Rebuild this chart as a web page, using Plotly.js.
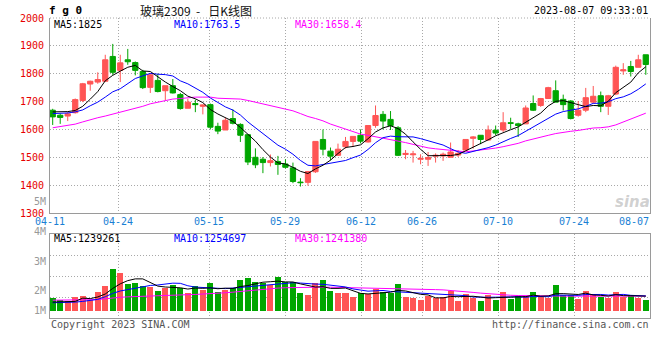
<!DOCTYPE html>
<html><head><meta charset="utf-8">
<script src="https://cdn.plot.ly/plotly-3.0.1.min.js"></script>
<style>html,body{margin:0;padding:0;background:#fff}#chart{width:660px;height:360px}</style>
</head><body><div id="chart"></div>
<script>
// ---------------- data ----------------
const dates = ['04-11','04-12','04-13','04-14','04-17','04-18','04-19','04-20','04-21','04-24','04-25','04-26','04-27','04-28',
'05-04','05-05','05-08','05-09','05-10','05-11','05-12','05-15','05-16','05-17','05-18','05-19','05-22','05-23','05-24','05-25','05-26','05-29','05-30','05-31',
'06-01','06-02','06-05','06-06','06-07','06-08','06-09','06-12','06-13','06-14','06-15','06-16','06-19','06-20','06-21','06-26','06-27','06-28','06-29','06-30',
'07-03','07-04','07-05','07-06','07-07','07-10','07-11','07-12','07-13','07-14','07-17','07-18','07-19','07-20','07-21','07-24','07-25','07-26','07-27','07-28','07-31',
'08-01','08-02','08-03','08-04','08-07'];
const open  = [1669,1651,1648,1660,1704,1763,1770,1773,1862,1812,1850,1840,1808,1751,1776,1739,1757,1725,1676,1693,
1683,1689,1611,1598,1639,1618,1581,1500,1493,1481,1485,1476,1462,1411,1410,1448,1564,1522,1507,1538,
1557,1579,1555,1614,1654,1636,1606,1510,1509,1493,1493,1504,1505,1500,1508,1526,1568,1579,1562,1597,
1598,1624,1620,1620,1693,1686,1711,1739,1708,1702,1651,1669,1698,1721,1683,1727,1810,1826,1823,1868];
const high  = [1674,1657,1662,1711,1767,1775,1805,1868,1907,1868,1889,1844,1814,1802,1800,1757,1781,1731,1710,1707,
1689,1693,1624,1642,1672,1622,1581,1532,1501,1510,1505,1493,1481,1425,1451,1557,1600,1535,1549,1573,
1575,1600,1614,1686,1666,1666,1612,1526,1523,1511,1519,1514,1517,1553,1526,1564,1576,1579,1614,1614,
1662,1642,1624,1686,1722,1713,1753,1776,1725,1705,1702,1749,1756,1736,1724,1829,1838,1846,1868,1868];
const low   = [1616,1620,1630,1657,1698,1739,1764,1770,1796,1770,1832,1794,1745,1731,1733,1705,1729,1671,1676,1662,
1654,1600,1583,1598,1618,1555,1472,1461,1443,1467,1437,1460,1407,1395,1398,1444,1507,1489,1505,1531,
1538,1550,1553,1606,1600,1598,1505,1493,1481,1475,1469,1481,1487,1500,1501,1526,1531,1547,1560,1579,
1591,1602,1573,1620,1666,1681,1710,1698,1668,1636,1646,1662,1693,1662,1652,1723,1796,1790,1823,1796];
const close = [1645,1643,1656,1707,1764,1773,1779,1850,1805,1839,1843,1812,1750,1796,1736,1757,1731,1675,1698,1689,
1688,1608,1594,1633,1622,1579,1483,1473,1481,1488,1474,1464,1413,1409,1449,1557,1529,1504,1529,1557,
1575,1558,1614,1650,1630,1614,1507,1514,1512,1496,1499,1507,1511,1519,1514,1564,1573,1564,1598,1587,
1624,1622,1614,1677,1669,1711,1750,1698,1689,1639,1669,1714,1719,1683,1721,1823,1814,1808,1850,1833];
const ma5  = [1663,1663,1664,1668,1683,1708.6,1735.8,1774.6,1794.2,1809.2,1823.2,1829.8,1809.8,1808,1787.4,1770.2,1754,1739,1719.4,1710,
1696.2,1671.6,1655.4,1642.4,1629,1607.2,1582.2,1558,1527.6,1500.8,1479.8,1476,1464,1449.6,1441.8,1458.4,1471.4,1489.6,1513.6,1535.2,
1538.8,1544.6,1566.6,1590.8,1605.4,1613.2,1603,1583,1555.4,1528.6,1505.6,1505.6,1505,1506.4,1510,1523,1536.2,1546.8,1562.6,1577.2,
1589.2,1599,1609,1624.8,1641.2,1658.6,1684.2,1701,1703.4,1697.4,1689,1681.8,1686,1684.8,1701.2,1732,1752,1769.8,1803.2,1825];
const ma10 = [1657,1657,1659,1663,1670,1685,1698,1716,1735,1746.1,1765.9,1782.8,1792.2,1801.1,1798.3,1796.7,1791.9,1774.4,1763.7,1748.7,
1733.2,1712.8,1697.2,1680.9,1669.5,1651.7,1626.9,1606.7,1585,1564.9,1543.5,1529.1,1511,1488.6,1471.3,1469.1,1473.7,1476.8,1481.6,1488.5,
1498.6,1508,1528.1,1552.2,1570.3,1576,1573.8,1574.8,1573.1,1567,1559.4,1554.3,1544,1530.9,1519.3,1514.3,1520.9,1525.9,1534.5,1543.6,
1556.1,1567.6,1577.9,1593.7,1609.2,1623.9,1641.6,1655,1664.1,1669.3,1673.8,1683,1693.5,1694.1,1699.3,1710.5,1716.9,1727.9,1744,1763.5];
const ma30 = [1606,1610,1614,1619,1627,1635,1642,1648,1655,1660,1668,1676,1683,1692,1698,1705,1709,1711,1714,1716,
1716,1716,1712,1711,1710,1709,1704,1698,1692,1686.6,1680.9,1674.9,1666.8,1656.9,1646.4,1639.2,1630.8,1619.3,1610.1,1600.7,
1591.8,1583.3,1578.8,1573.9,1570.4,1565.6,1558.1,1552.8,1546.6,1540.1,1533.8,1530.5,1527.7,1523.9,1520.3,1519.8,1522.8,1525.8,1529.7,1533,
1538,1543.3,1550,1558.9,1566.3,1571.4,1578.8,1585.2,1590.6,1593.3,1596.4,1601.6,1605.1,1606.2,1609.3,1616.2,1626.5,1636.3,1647.5,1658.4];
const volume = [1108000,917000,858000,1192000,1275000,917000,1608000,2083000,3525000,3192000,
2250000,2333000,2083000,2025000,1667000,1892000,2142000,1942000,1500000,2083000,
1775000,2333000,1583000,1750000,1942000,2583000,2750000,2417000,2308000,2142000,
2833000,2417000,2392000,1500000,1333000,2333000,2583000,1667000,1500000,1500000,
1192000,1500000,1417000,1808000,1608000,1500000,2250000,1192000,1108000,892000,
1250000,1058000,1150000,1708000,808000,1392000,1083000,808000,1308000,958000,
1558000,975000,1233000,1275000,1558000,1142000,1083000,2142000,1308000,1375000,
975000,1642000,1375000,1167000,1083000,1558000,1208000,1358000,1100000,958000];
const volMa5 = [740000,740000,750000,800000,1070000,1032000,1170000,1415000,1882000,2265000,
2532000,2677000,2677000,2377000,2072000,2000000,1962000,1934000,1829000,1912000,
1888000,1927000,1855000,1905000,1877000,2038000,2122000,2288000,2400000,2440000,
2490000,2423000,2418000,2257000,2095000,1995000,2028000,1883000,1883000,1917000,
1688000,1472000,1422000,1483000,1505000,1567000,1717000,1672000,1532000,1388000,
1338000,1100000,1092000,1212000,1195000,1223000,1228000,1160000,1080000,1110000,
1143000,1121000,1206000,1200000,1320000,1237000,1258000,1440000,1447000,1410000,
1377000,1488000,1335000,1307000,1248000,1365000,1278000,1275000,1261000,1239261];
const volMa10 = [690000,690000,700000,740000,800000,860000,970000,1190000,1470000,1668000,
1782000,1923000,2046000,2129000,2168000,2266000,2319000,2305000,2103000,1992000,
1944000,1944000,1894000,1867000,1894000,1963000,2024000,2072000,2152000,2158000,
2264000,2273000,2353000,2328000,2268000,2243000,2226000,2151000,2070000,2006000,
1842000,1750000,1653000,1683000,1711000,1628000,1594000,1547000,1508000,1447000,
1453000,1408000,1382000,1372000,1292000,1281000,1164000,1126000,1146000,1152000,
1183000,1175000,1183000,1140000,1215000,1190000,1190000,1323000,1323000,1365000,
1307000,1373000,1388000,1377000,1329000,1371000,1383000,1305000,1284000,1254697];
const volMa30 = [900000,900000,900000,900000,910000,920000,950000,1020000,1100000,1140000,
1180000,1210000,1240000,1260000,1280000,1300000,1320000,1340000,1360000,1380000,
1400000,1430000,1470000,1520000,1570000,1630000,1700000,1770000,1830000,1870000,
1910000,1940000,1960000,1970000,1980000,1990000,1990000,1980000,1970000,1960000,
1950000,1940000,1920000,1910000,1900000,1880000,1870000,1850000,1830000,1820000,
1800000,1780000,1760000,1720000,1670000,1610000,1550000,1490000,1430000,1380000,
1340000,1310000,1290000,1270000,1260000,1250000,1250000,1250000,1240000,1240000,
1240000,1240000,1240000,1240000,1240000,1240000,1240000,1240000,1240000,1241380];
const tickDates = ['04-11','04-24','05-15','05-29','06-12','06-26','07-10','07-24','08-07'];
const priceTicks = [1300,1400,1500,1600,1700,1800,1900,2000];
const volTickLabels = ['5M','4M','3M','2M','1M'];
const symbol = 'f g 0';
const titleText = '玻璃2309\u00a0\u00a0-\u00a0\u00a0\u00a0日K线图';
const stamp = '2023-08-07 09:33:01';

// ---------------- layout geometry ----------------
const W=660,H=360,L=50,R=10,T=18,B=42;
const PW=W-L-R, PH=H-T-B;
const px = x => (x-L)/PW;
const py = y => (H-B-y)/PH;
const X0=-0.36, X1=79.56;                    // candle index range
const gx = i => X0 + i*(X1-X0)/79;            // grid line position of a date slot
const VBASE=311, VPX=12;                      // volume panel: base pixel, px per million
const yVol = y => (VBASE-y)/VPX*1e6;

const RED='#ff5555', GREEN='#00a600', BLUE='#0000ff', MAG='#ff00ff', GRID='#a8a8a8', FRAME='#9a9a9a';
const MONO='DejaVu Sans Mono, monospace';
const idx = dates.map((d,i)=>i);
const gridVals = tickDates.map(d=>gx(dates.indexOf(d)));
const volColors = idx.map(i=> close[i]>=open[i] ? RED : GREEN);

const traces = [
  {type:'candlestick', x:idx, open:open, high:high, low:low, close:close, xaxis:'x', yaxis:'y',
   increasing:{line:{color:RED,width:1}, fillcolor:RED},
   decreasing:{line:{color:GREEN,width:1}, fillcolor:GREEN},
   whiskerwidth:0, hoverinfo:'skip', showlegend:false},
  {type:'scatter', mode:'lines', x:idx, y:ma30, line:{color:MAG,width:1}, xaxis:'x', yaxis:'y', hoverinfo:'skip', showlegend:false},
  {type:'scatter', mode:'lines', x:idx, y:ma10, line:{color:BLUE,width:1}, xaxis:'x', yaxis:'y', hoverinfo:'skip', showlegend:false},
  {type:'scatter', mode:'lines', x:idx, y:ma5, line:{color:'#000',width:1}, xaxis:'x', yaxis:'y', hoverinfo:'skip', showlegend:false},
  {type:'bar', x:idx, y:volume, width:0.8, marker:{color:volColors, line:{width:0}}, xaxis:'x2', yaxis:'y2', hoverinfo:'skip', showlegend:false},
  {type:'scatter', mode:'lines', x:idx, y:volMa30, line:{color:MAG,width:1}, xaxis:'x2', yaxis:'y2', hoverinfo:'skip', showlegend:false},
  {type:'scatter', mode:'lines', x:idx, y:volMa10, line:{color:BLUE,width:1}, xaxis:'x2', yaxis:'y2', hoverinfo:'skip', showlegend:false},
  {type:'scatter', mode:'lines', x:idx, y:volMa5, line:{color:'#000',width:1}, xaxis:'x2', yaxis:'y2', hoverinfo:'skip', showlegend:false}
];

const f = (size,color,extra) => Object.assign({family:MONO,size:size,color:color},extra||{});
const ann = [];
const A = (text,x,y,xanchor,font,xref) => ann.push({text:text,x:x,y:y,xref:xref||'paper',yref:'paper',xanchor:xanchor,yanchor:'middle',showarrow:false,font:font,borderpad:0});

A('<b>'+symbol+'</b>', px(48), py(11), 'left', f(11,'#000'));
A(titleText, px(139), py(10.5), 'left', {family:'Noto Sans CJK SC, sans-serif', size:12, color:'#111'});
A(stamp, px(649), py(11), 'right', f(10,'#000'));

const fmt = v => (Math.round(v*10)/10).toString();
A('MA5:'+fmt(ma5[79]), px(53), py(24), 'left', f(10,'#000'));
A('MA10:'+fmt(ma10[79]), px(173), py(24), 'left', f(10,BLUE));
A('MA30:'+fmt(ma30[79]), px(294), py(24), 'left', f(10,MAG));
A('MA5:'+Math.round(volMa5[79]), px(53), py(238.5), 'left', f(10,'#000'));
A('MA10:'+Math.round(volMa10[79]), px(173), py(238.5), 'left', f(10,BLUE));
A('MA30:'+Math.round(volMa30[79]), px(294), py(238.5), 'left', f(10,MAG));

const volLabelY = [201,231.5,261.5,290,310];
volTickLabels.forEach((t,k)=>A(t, px(47), py(volLabelY[k]), 'right', f(10,'#999')));

tickDates.forEach((d,k)=>{
  const i = dates.indexOf(d);
  if (k===tickDates.length-1) A(d, px(649.5), py(221), 'right', f(10,'#1a7fd4'));
  else A(d, gx(i), py(221), 'center', f(10,'#1a7fd4'), 'x');
});

A('Copyright 2023 SINA.COM', px(49.5), py(324), 'left', f(10,'#555'));
A('http://finance.sina.com.cn', px(649.5), py(324), 'right', f(10,'#555'));
A('<i><b>sina</b></i>', px(632), py(202), 'center', {family:'DejaVu Sans, sans-serif', size:15, color:'rgba(150,150,150,0.45)'});

const layout = {
  width:W, height:H, margin:{l:L,r:R,t:T,b:B,pad:0},
  paper_bgcolor:'#fff', plot_bgcolor:'#fff', showlegend:false,
  boxgap:0.3, boxgroupgap:0, bargap:0,
  xaxis:{domain:[0,1], range:[X0,X1], anchor:'y', tickmode:'array', tickvals:gridVals, showticklabels:false, ticks:'',
         showgrid:true, gridcolor:GRID, griddash:'1px,2px', gridwidth:1, zeroline:false,
         showline:true, linecolor:FRAME, linewidth:1, mirror:false, rangeslider:{visible:false}, fixedrange:true},
  yaxis:{domain:[py(213),py(18)], range:[1300,2000], anchor:'x', tickmode:'array', tickvals:priceTicks,
         ticks:'', tickfont:f(10,'#e60000'), ticklabelstandoff:3,
         showgrid:true, gridcolor:GRID, griddash:'1px,2px', gridwidth:1, zeroline:false,
         showline:true, linecolor:FRAME, linewidth:1, mirror:true, fixedrange:true},
  xaxis2:{domain:[0,1], range:[X0,X1], anchor:'y2', tickmode:'array', tickvals:gridVals, showticklabels:false, ticks:'',
         showgrid:true, gridcolor:GRID, griddash:'1px,2px', gridwidth:1, zeroline:false,
         showline:true, linecolor:FRAME, linewidth:1, mirror:true, fixedrange:true},
  yaxis2:{domain:[0,py(234)], range:[yVol(318),yVol(234)], anchor:'x2', tickmode:'array',
         tickvals:[yVol(297),yVol(276),yVol(255)], showticklabels:false, ticks:'',
         showgrid:true, gridcolor:GRID, griddash:'1px,2px', gridwidth:1, zeroline:false,
         showline:true, linecolor:FRAME, linewidth:1, mirror:true, fixedrange:true},
  shapes:[{type:'line', xref:'paper', yref:'paper', x0:0, x1:1, y0:1, y1:1, line:{color:GRID, width:1, dash:'1px,2px'}}],
  annotations: ann
};
Plotly.newPlot('chart', traces, layout, {staticPlot:true, displayModeBar:false});
</script></body></html>
